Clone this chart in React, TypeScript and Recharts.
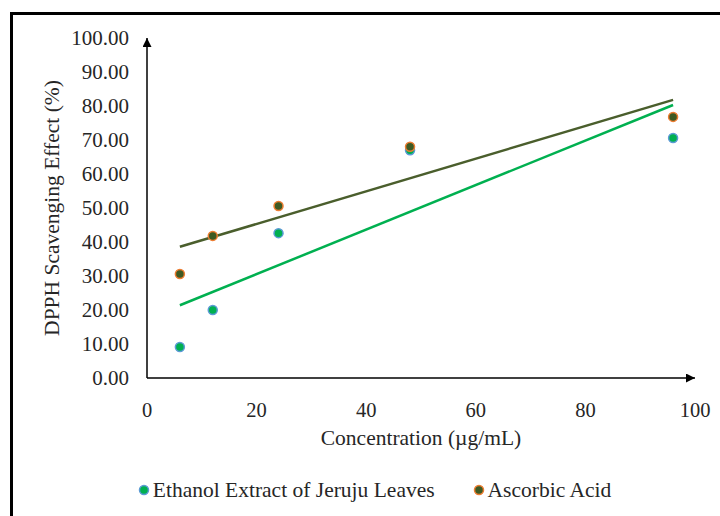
import { ScatterChart, Scatter, XAxis, YAxis, Legend } from "recharts";

const FONT = '"Liberation Serif", "Times New Roman", serif';
const TEXT = "#262626";

// concentrations (µg/mL)
const concentrations = [6, 12, 24, 48, 96];
const ethanolValues = [9.1, 20.0, 42.6, 67.0, 70.6];
const ascorbicValues = [30.6, 41.8, 50.6, 68.0, 76.8];

// linear trendline endpoints
const trendX = [6, 96];
const ethanolTrend = [21.4, 80.3];
const ascorbicTrend = [38.6, 81.8];

const xTicks = [0, 20, 40, 60, 80, 100];
const yTicks = [0, 10, 20, 30, 40, 50, 60, 70, 80, 90, 100];

const seriesNames = ["Ethanol Extract of Jeruju Leaves", "Ascorbic Acid"];

const ethanolData = concentrations.map((x, i) => ({ x, y: ethanolValues[i] }));
const ascorbicData = concentrations.map((x, i) => ({ x, y: ascorbicValues[i] }));
const ethanolTrendData = trendX.map((x, i) => ({ x, y: ethanolTrend[i] }));
const ascorbicTrendData = trendX.map((x, i) => ({ x, y: ascorbicTrend[i] }));

const MARKERS = [
  { fill: "#00B050", stroke: "#5B9BD5" },
  { fill: "#3E5A23", stroke: "#ED7D31" },
];

const dot = (m: { fill: string; stroke: string }) => (props: any) =>
  <circle cx={props.cx} cy={props.cy} r={4.5} fill={m.fill} stroke={m.stroke} strokeWidth={1.5} />;

const noShape = () => <g />;

const renderLegend = () => (
  <div style={{ display: "flex", justifyContent: "center", alignItems: "center", height: 24, paddingLeft: 29, fontFamily: FONT, fontSize: 21.5, color: TEXT }}>
    {seriesNames.map((name, i) => (
      <div key={name} style={{ display: "flex", alignItems: "center", marginRight: i === 0 ? 38 : 0 }}>
        <svg width={12} height={12} style={{ marginRight: 3 }}>
          <circle cx={6} cy={6} r={4.5} fill={MARKERS[i].fill} stroke={MARKERS[i].stroke} strokeWidth={1.5} />
        </svg>
        <span>{name}</span>
      </div>
    ))}
  </div>
);

export default function App() {
  return (
    <div style={{ position: "absolute", top: 0, left: 0, width: 720, height: 516, background: "#fff", overflow: "hidden" }}>
      <div style={{ position: "absolute", left: 10, top: 12, width: 740, height: 540, borderTop: "3px solid #000", borderLeft: "3px solid #000" }} />
      <div style={{ position: "absolute", top: 0, left: 0 }}>
        <ScatterChart width={720} height={516} margin={{ top: 38, right: 25, bottom: 44, left: 0 }}>
          <defs>
            <marker id="arrow" viewBox="0 0 10 10" refX={10} refY={5} markerWidth={11} markerHeight={9} markerUnits="userSpaceOnUse" orient="auto-start-reverse">
              <path d="M0,0 L10,5 L0,10 z" fill="#000" />
            </marker>
          </defs>
          <XAxis
            type="number"
            dataKey="x"
            domain={[0, 100]}
            ticks={xTicks}
            height={70}
            tickLine={false}
            tickMargin={18}
            axisLine={{ stroke: "#000", strokeWidth: 1.5, markerEnd: "url(#arrow)" }}
            tick={{ fontFamily: FONT, fontSize: 20.5, fill: TEXT }}
            label={{ value: "Concentration (µg/mL)", position: "insideBottom", offset: 3, fontFamily: FONT, fontSize: 21.5, fill: TEXT }}
          />
          <YAxis
            type="number"
            dataKey="y"
            domain={[0, 100]}
            ticks={yTicks}
            width={147}
            tickLine={false}
            tickMargin={12}
            tickFormatter={(v: number) => v.toFixed(2)}
            axisLine={{ stroke: "#000", strokeWidth: 1.5, markerStart: "url(#arrow)" }}
            tick={{ fontFamily: FONT, fontSize: 21, fill: TEXT }}
            label={{ value: "DPPH Scavenging Effect (%)", angle: -90, position: "insideLeft", offset: 51, fontFamily: FONT, fontSize: 21.5, fill: TEXT, style: { textAnchor: "middle" } }}
          />
          <Legend verticalAlign="bottom" content={renderLegend} wrapperStyle={{ left: 0, width: 720, top: 478 }} />
          <Scatter data={ethanolTrendData} line={{ stroke: "#00B050", strokeWidth: 2.5 }} shape={noShape} legendType="none" isAnimationActive={false} />
          <Scatter data={ascorbicTrendData} line={{ stroke: "#4A5E2C", strokeWidth: 2.5 }} shape={noShape} legendType="none" isAnimationActive={false} />
          <Scatter name={seriesNames[0]} data={ethanolData} shape={dot(MARKERS[0])} isAnimationActive={false} />
          <Scatter name={seriesNames[1]} data={ascorbicData} shape={dot(MARKERS[1])} isAnimationActive={false} />
        </ScatterChart>
      </div>
    </div>
  );
}
